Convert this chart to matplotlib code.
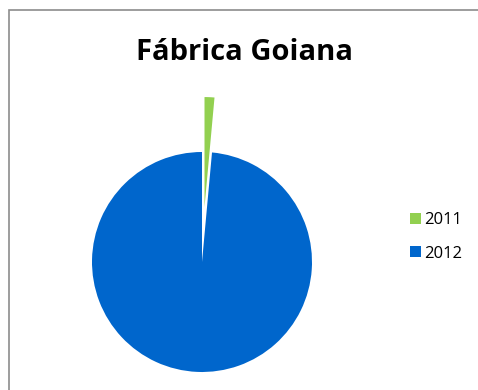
import matplotlib.pyplot as plt
from matplotlib.patches import Patch, Rectangle

plt.switch_backend('Agg')

# Production by year
years = ['2011', '2012']
values = [1.45, 98.55]
colors = ['#92D050', '#0066CC']
title = 'Fábrica Goiana'

W, H = 478, 390
fig = plt.figure(figsize=(W / 100, H / 100), dpi=100)

# chart area border (only left and top edges fall inside the image)
fig.patches.append(Rectangle((9 / W, -0.1), 1.2, (H - 10) / H + 0.1,
                             transform=fig.transFigure, fill=False,
                             edgecolor='#8c8c8c', linewidth=1.2))

# pie axes: 110 px per data unit, centre at (202, 262) px
scale = 110
cx, cy = 202, H - 262
x0, x1 = -1.5, 1.5
y0, y1 = -1.1, 1.7
ax = fig.add_axes([(cx + x0 * scale) / W, (cy + y0 * scale) / H,
                   (x1 - x0) * scale / W, (y1 - y0) * scale / H])
ax.pie(values, colors=colors, startangle=90, counterclock=False,
       explode=[0.5, 0], radius=1, wedgeprops=dict(linewidth=0))
ax.set_xlim(x0, x1)
ax.set_ylim(y0, y1)
ax.set_aspect('equal', adjustable='box')
ax.axis('off')

fig.text(245 / W, 1 - 60 / H, title, ha='center', va='baseline',
         fontsize=21, fontweight='bold', family='Open Sans')

handles = [Patch(facecolor=c, edgecolor='none') for c in colors]
fig.legend(handles, years, loc='center left', bbox_to_anchor=(395 / W, 1 - 237 / H),
           frameon=False, handlelength=0.65, handleheight=0.65, handletextpad=0.2,
           labelspacing=1.05, prop=dict(family='Open Sans', size=12))

fig.savefig('out.png', dpi=100)
plt.close(fig)
